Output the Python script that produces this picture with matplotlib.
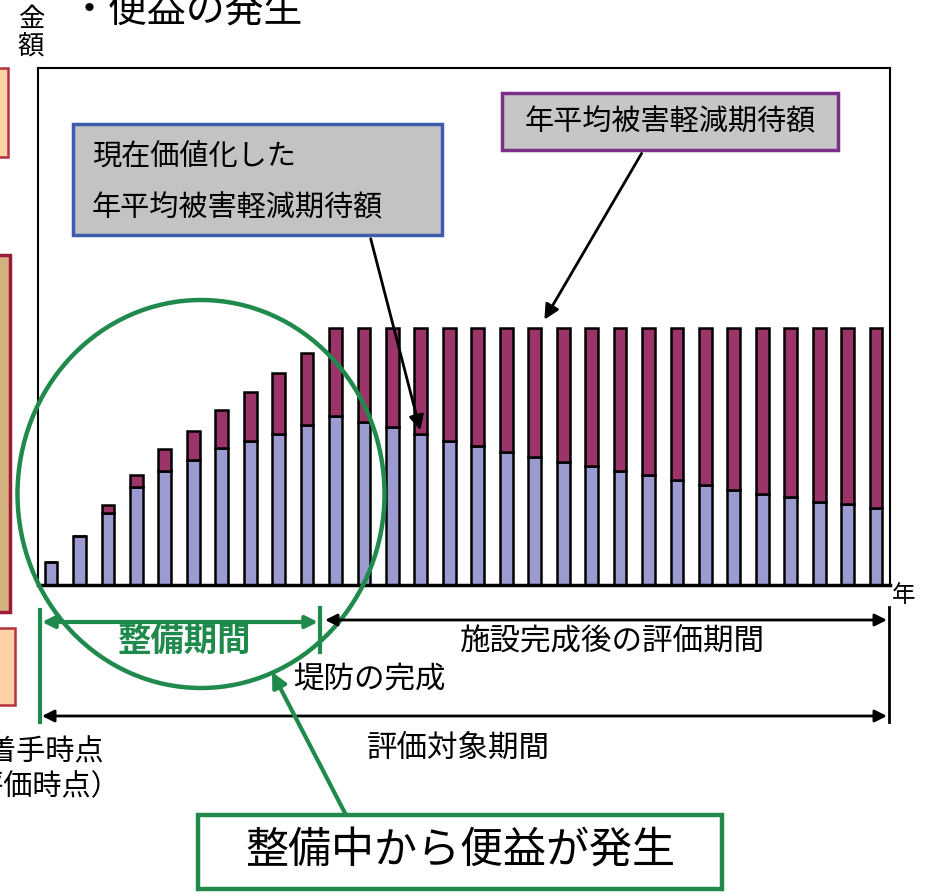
import matplotlib
matplotlib.use("Agg")
import matplotlib.pyplot as plt
from matplotlib.patches import Ellipse, Rectangle

plt.rcParams["font.family"] = ["Noto Sans CJK JP", "DejaVu Sans"]

# data (full annual benefit = 100)
years = list(range(30))
annual_benefit = [9.1, 19.2, 31.1, 42.8, 52.8, 59.9, 68.1, 75.2, 82.4, 90.2,
                  100, 100, 100, 100, 100, 100, 100, 100, 100, 100,
                  100, 100, 100, 100, 100, 100, 100, 100, 100, 100]
present_value = [9.1, 19.2, 28.1, 38.2, 44.5, 48.6, 53.2, 56.0, 58.8, 62.3,
                 65.8, 63.2, 61.6, 58.6, 55.8, 54.2, 51.9, 49.9, 48.0, 46.4,
                 44.5, 42.8, 40.9, 38.9, 37.0, 35.4, 34.1, 32.4, 31.5, 29.8]
discounted_away = [b - p for b, p in zip(annual_benefit, present_value)]

BLUE = "#9b9bd2"
MAROON = "#9b3468"
GREEN = "#1f8a4c"
W, H = 926, 893

fig = plt.figure(figsize=(W / 100, H / 100), dpi=100)
fig.patch.set_facecolor("white")

# main chart area
ax = fig.add_axes([38 / W, (H - 585) / H, (890 - 38) / W, (585 - 68) / H])
ax.bar(years, present_value, width=0.45, color=BLUE, edgecolor="black", linewidth=1.8)
ax.bar(years, discounted_away, width=0.45, bottom=present_value,
       color=MAROON, edgecolor="black", linewidth=1.8)
ax.set_xlim(-0.457, 29.49)
ax.set_ylim(0, 201)
ax.set_xticks([])
ax.set_yticks([])
for side in ["left", "top", "right"]:
    ax.spines[side].set_linewidth(1.5)
ax.spines["bottom"].set_linewidth(2.5)

# overlay in pixel coordinates for annotations
ov = fig.add_axes([0, 0, 1, 1], zorder=5)
ov.set_xlim(0, W)
ov.set_ylim(H, 0)
ov.axis("off")
ov.patch.set_alpha(0)

# title and axis words (title is cut at the top in the original)
ov.text(70, 12, "・便益の発生", fontsize=28, va="center", ha="left")
ov.text(31, 19, "金", fontsize=19, va="center", ha="center")
ov.text(31, 47, "額", fontsize=19, va="center", ha="center")
ov.text(904, 595, "年", fontsize=17, va="center", ha="center")

# cut-off boxes at the left edge
ov.add_patch(Rectangle((-6, 68), 14, 89, facecolor="#fcd2a6", edgecolor="#b3323f", lw=1.8))
ov.add_patch(Rectangle((-6, 255), 16, 357, facecolor="#d3b27f", edgecolor="#9c1a3a", lw=2.5))
ov.add_patch(Rectangle((-6, 628), 21, 77, facecolor="#fcd2a6", edgecolor="#b3323f", lw=1.8))

# callout boxes
ov.add_patch(Rectangle((73, 124), 369, 111, facecolor="#c3c3c3", edgecolor="#3d5cae", lw=2.5))
ov.text(92, 158, "現在価値化した", fontsize=21, va="center", ha="left")
ov.text(92, 208, "年平均被害軽減期待額", fontsize=21, va="center", ha="left")
ov.annotate("", xy=(421, 433), xytext=(370, 236),
            arrowprops=dict(arrowstyle="-|>", color="black", lw=2, mutation_scale=22))

ov.add_patch(Rectangle((502, 93), 336, 57, facecolor="#c6c6c6", edgecolor="#7b2f8a", lw=2.5))
ov.text(670, 122, "年平均被害軽減期待額", fontsize=21, va="center", ha="center")
ov.annotate("", xy=(543, 322), xytext=(643, 151),
            arrowprops=dict(arrowstyle="-|>", color="black", lw=2, mutation_scale=22))

# green circle around construction period
ov.add_patch(Ellipse((201, 494), 367, 388, fill=False, edgecolor=GREEN, lw=3.2))

# period markers
ov.plot([40, 40], [610, 722], color=GREEN, lw=3)
ov.plot([320, 320], [608, 652], color=GREEN, lw=3)
ov.plot([889, 889], [607, 722], color="black", lw=2)
ov.annotate("", xy=(42, 622), xytext=(318, 622),
            arrowprops=dict(arrowstyle="<|-|>", color=GREEN, lw=3, mutation_scale=18,
                            shrinkA=0, shrinkB=0))
ov.annotate("", xy=(325, 620), xytext=(887, 620),
            arrowprops=dict(arrowstyle="<|-|>", color="black", lw=2, mutation_scale=18,
                            shrinkA=0, shrinkB=0))
ov.annotate("", xy=(42, 716), xytext=(887, 716),
            arrowprops=dict(arrowstyle="<|-|>", color="black", lw=2, mutation_scale=18,
                            shrinkA=0, shrinkB=0))

ov.text(185, 641, "整備期間", fontsize=24, fontweight="bold", color=GREEN, va="center", ha="center")
ov.text(612, 641, "施設完成後の評価期間", fontsize=22, va="center", ha="center")
ov.text(293, 680, "堤防の完成", fontsize=22, va="center", ha="left")
ov.text(458, 748, "評価対象期間", fontsize=22, va="center", ha="center")
# left-edge labels are cut off in the original too
ov.text(104, 752, "着手時点", fontsize=21, va="center", ha="right")
ov.text(120, 787, "（評価時点）", fontsize=21, va="center", ha="right")

# bottom message box
ov.add_patch(Rectangle((198, 815), 524, 74, facecolor="white", edgecolor=GREEN, lw=3.2))
ov.text(460, 851, "整備中から便益が発生", fontsize=31, va="center", ha="center")
ov.annotate("", xy=(272, 672), xytext=(346, 815),
            arrowprops=dict(arrowstyle="-|>", color=GREEN, lw=3, mutation_scale=22,
                            shrinkA=0, shrinkB=0))

fig.savefig("out.png", dpi=100, facecolor="white")
